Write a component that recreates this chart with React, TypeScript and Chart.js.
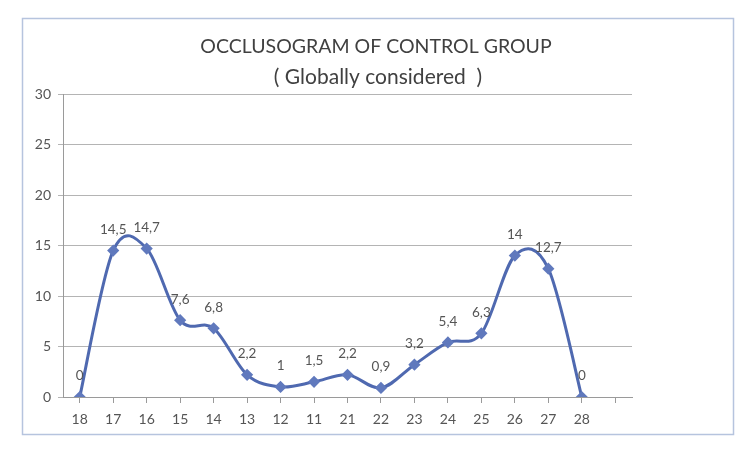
import React, { useEffect, useRef } from "react";
import { Chart, registerables } from "chart.js";

Chart.register(...registerables);

const categories = ["18", "17", "16", "15", "14", "13", "12", "11", "21", "22", "23", "24", "25", "26", "27", "28", ""];
const values: (number | null)[] = [0, 14.5, 14.7, 7.6, 6.8, 2.2, 1, 1.5, 2.2, 0.9, 3.2, 5.4, 6.3, 14, 12.7, 0, null];
const yTicks = [0, 5, 10, 15, 20, 25, 30];
const titleLines = ["OCCLUSOGRAM OF CONTROL GROUP", "( Globally considered  )"];

const FONT = "Lato, 'Open Sans', sans-serif";
const LINE_COLOR = "#4f69b0";

const framePlugin = {
  id: "frame",
  beforeDraw(chart: any) {
    const ctx = chart.ctx;
    ctx.save();
    ctx.fillStyle = "#ffffff";
    ctx.fillRect(0, 0, chart.width, chart.height);
    ctx.strokeStyle = "#b6c4de";
    ctx.lineWidth = 1.5;
    ctx.strokeRect(22.5, 18.5, 711, 416);
    ctx.fillStyle = "#404040";
    ctx.textAlign = "center";
    ctx.textBaseline = "middle";
    ctx.font = `19.5px ${FONT}`;
    ctx.fillText(titleLines[0], 376, 47);
    ctx.font = `21px ${FONT}`;
    ctx.fillText(titleLines[1], 378, 77);
    ctx.restore();
  },
};

// Excel-like smoothing (Catmull-Rom Bezier control points)
const smoothPlugin = {
  id: "smooth",
  beforeDatasetDraw(chart: any, args: any) {
    const meta = args.meta;
    const line = meta.dataset;
    if (!line) return;
    if (typeof line.updateControlPoints === "function") {
      line.updateControlPoints(chart.chartArea, meta.iScale ? meta.iScale.axis : "x");
    }
    const pts = meta.data.filter((p: any) => !p.skip);
    const k = 1 / 6;
    for (let i = 0; i < pts.length; i++) {
      const p = pts[i];
      const prev = pts[i - 1] || p;
      const next = pts[i + 1] || p;
      const dx = (next.x - prev.x) * k;
      const dy = (next.y - prev.y) * k;
      p.cp1x = p.x - dx;
      p.cp1y = p.y - dy;
      p.cp2x = p.x + dx;
      p.cp2y = p.y + dy;
    }
    line._path = undefined;
  },
};

const labelPlugin = {
  id: "pointLabels",
  afterDatasetsDraw(chart: any) {
    const ctx = chart.ctx;
    const meta = chart.getDatasetMeta(0);
    ctx.save();
    ctx.fillStyle = "#555555";
    ctx.font = `13.5px ${FONT}`;
    ctx.textAlign = "center";
    ctx.textBaseline = "middle";
    meta.data.forEach((pt: any, i: number) => {
      const v = values[i];
      if (v === null || v === undefined) return;
      ctx.fillText(String(v).replace(".", ","), pt.x, pt.y - 21);
    });
    ctx.restore();
  },
};

export default function App() {
  const ref = useRef<HTMLCanvasElement | null>(null);

  useEffect(() => {
    document.body.style.margin = "0";
    const canvas = ref.current!;
    const chart = new Chart(canvas, {
      type: "line",
      data: {
        labels: categories,
        datasets: [
          {
            data: values,
            borderColor: LINE_COLOR,
            backgroundColor: LINE_COLOR,
            borderWidth: 3,
            tension: 0.4,
            pointStyle: "rectRot",
            pointRadius: 4,
            pointBackgroundColor: "#6079bd",
            pointBorderColor: "#6079bd",
            spanGaps: false,
          },
        ],
      },
      options: {
        animation: false,
        responsive: false,
        maintainAspectRatio: false,
        layout: { padding: { left: 0, top: 94, right: 118, bottom: 0 } },
        plugins: {
          legend: { display: false },
          tooltip: { enabled: false },
          title: { display: false },
        },
        scales: {
          x: {
            offset: true,
            grid: {
              display: true,
              drawOnChartArea: false,
              drawTicks: true,
              tickLength: 6,
              color: "#9a9a9a",
            },
            border: { display: true, color: "#9a9a9a", width: 1 },
            ticks: {
              color: "#555555",
              font: { family: FONT, size: 14 },
              padding: 8,
              maxRotation: 0,
              autoSkip: false,
            },
            afterFit(scale: any) {
              scale.height = 60;
            },
          },
          y: {
            min: 0,
            max: 30,
            afterBuildTicks(scale: any) {
              scale.ticks = yTicks.map((v) => ({ value: v }));
            },
            grid: {
              color: "#b4b4b4",
              tickLength: 5,
              drawTicks: true,
            },
            border: { display: true, color: "#9a9a9a", width: 1 },
            ticks: {
              color: "#555555",
              font: { family: FONT, size: 14 },
              padding: 7,
            },
            afterFit(scale: any) {
              scale.width = 63;
            },
          },
        },
      },
      plugins: [framePlugin, smoothPlugin, labelPlugin],
    });
    return () => chart.destroy();
  }, []);

  return (
    <div style={{ position: "absolute", left: 0, top: 0, width: 750, height: 457 }}>
      <canvas ref={ref} width={750} height={457} style={{ width: 750, height: 457, display: "block" }} />
    </div>
  );
}
